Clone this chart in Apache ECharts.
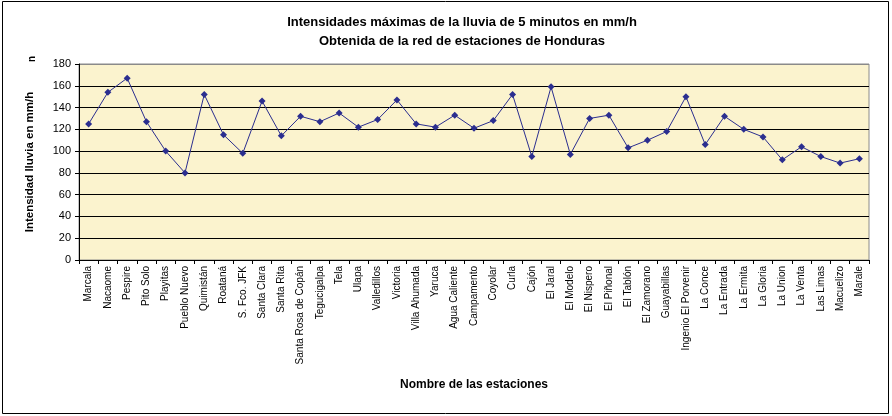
<!DOCTYPE html>
<html>
<head>
<meta charset="utf-8">
<script src="https://cdn.jsdelivr.net/npm/echarts@6/dist/echarts.min.js"></script>
<style>
  html, body { margin: 0; padding: 0; background: #fff; }
  #chart { width: 892px; height: 416px; }
</style>
</head>
<body>
<div id="chart"></div>
<script>
// estaciones
var estaciones = ['Marcala', 'Nacaome', 'Pespire', 'Pito Solo', 'Playitas', 'Pueblo Nuevo',
    'Quimistán', 'Roataná', 'S. Fco. JFK', 'Santa Clara', 'Santa Rita', 'Santa Rosa de Copán',
    'Tegucigalpa', 'Tela', 'Ulapa', 'Valledillos', 'Victoria', 'Villa Ahumada', 'Yaruca',
    'Agua Caliente', 'Campamento', 'Coyolar', 'Curla', 'Cajón', 'El Jaral', 'El Modelo',
    'El Nispero', 'El Piñonal', 'El Tablón', 'El Zamorano', 'Guayabillas', 'Ingenio El Porvenir',
    'La Conce', 'La Entrada', 'La Ermita', 'La Gloria', 'La Union', 'La Venta', 'Las Limas',
    'Macuelizo', 'Marale'];

// intensidad maxima (mm/h)
var intensidad = [125, 154, 167, 127, 100, 80,
    152, 115, 98, 146, 114, 132,
    127, 135, 122, 129, 147, 125, 122,
    133, 121, 128, 152, 95, 159, 97,
    130, 133, 103, 110, 118, 150,
    106, 132, 120, 113, 92, 104, 95,
    89, 93];

var yTicks = [0, 20, 40, 60, 80, 100, 120, 140, 160, 180];

var chart = echarts.init(document.getElementById('chart'));

var option = {
    backgroundColor: '#fff',
    animation: false,
    textStyle: { fontFamily: 'Liberation Sans, Arial, sans-serif' },
    title: {
        text: 'Intensidades máximas de la lluvia de 5 minutos en mm/h\nObtenida de la red de estaciones de Honduras',
        left: 457,
        top: 8,
        textAlign: 'center',
        textStyle: {
            fontSize: 13,
            fontWeight: 'bold',
            color: '#000',
            lineHeight: 19
        }
    },
    grid: {
        left: 79,
        right: 23,
        top: 64,
        bottom: 156,
        show: true,
        backgroundColor: '#FBF3CE',
        borderColor: '#8a8a8a',
        borderWidth: 1
    },
    xAxis: {
        type: 'category',
        data: estaciones,
        boundaryGap: true,
        name: 'Nombre de las estaciones',
        nameLocation: 'middle',
        nameGap: 119,
        nameTextStyle: { fontSize: 12, fontWeight: 'bold', color: '#000' },
        axisLine: { lineStyle: { color: '#000', width: 1 } },
        axisTick: { show: true, alignWithLabel: false, length: 4, lineStyle: { color: '#000' } },
        axisLabel: {
            rotate: 90,
            interval: 0,
            fontSize: 10,
            color: '#000',
            margin: 6
        },
        splitLine: { show: false }
    },
    yAxis: {
        type: 'value',
        min: 0,
        max: 180,
        interval: 20,
        name: 'Intensidad lluvia en mm/h',
        nameLocation: 'middle',
        nameRotate: 90,
        nameGap: 43,
        nameTextStyle: { fontSize: 11.5, fontWeight: 'bold', color: '#000' },
        axisLine: { show: true, lineStyle: { color: '#000', width: 1 } },
        axisTick: { show: true, length: 4, lineStyle: { color: '#000' } },
        axisLabel: {
            fontSize: 11,
            color: '#000',
            margin: 8,
            formatter: function (v) { return yTicks.indexOf(v) >= 0 ? String(v) : ''; }
        },
        splitLine: {
            show: true,
            lineStyle: {
                color: ['#000', '#000', '#000', '#000', '#000', '#000', '#000', '#000', '#000', '#8a8a8a'],
                width: 1
            }
        }
    },
    series: [
        {
            name: 'Intensidad',
            type: 'line',
            data: intensidad,
            symbol: 'diamond',
            symbolSize: 7,
            itemStyle: { color: '#2B2E8F' },
            lineStyle: { color: '#2B2E8F', width: 1 }
        }
    ],
    graphic: [
        {
            type: 'rect',
            shape: { x: 2.5, y: 1.5, width: 886, height: 412 },
            style: { fill: 'none', stroke: '#000', lineWidth: 1 },
            silent: true
        },
        {
            type: 'text',
            x: 27,
            y: 62,
            rotation: Math.PI / 2,
            style: { text: 'n', fontSize: 10, fontWeight: 'bold', fill: '#000', fontFamily: 'Liberation Sans, Arial, sans-serif' }
        }
    ]
};

chart.setOption(option);
</script>
</body>
</html>
